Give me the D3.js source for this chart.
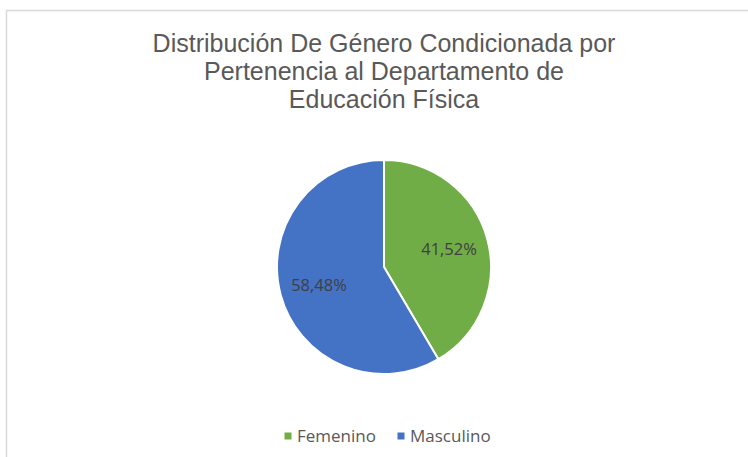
<!DOCTYPE html>
<html>
<head>
<meta charset="utf-8">
<script src="https://cdn.jsdelivr.net/npm/d3@7"></script>
<style>
  body { margin: 0; background: #fff; }
  svg { display: block; }
</style>
</head>
<body>
<svg id="chart"></svg>
<script>
const categories = ["Femenino", "Masculino"];
const values = [41.52, 58.48];
const labels = ["41,52%", "58,48%"];
const colors = ["#70AD47", "#4472C4"];
const titleLines = ["Distribución De Género Condicionada por", "Pertenencia al Departamento de", "Educación Física"];

const w = 748, h = 457;
const cx = 384, cy = 267, radius = 107;

const svg = d3.select("#chart").attr("width", w).attr("height", h);

// chart area frame (only top and left edges are visible)
svg.append("path")
  .attr("d", `M6.5,${h} V10.5 H${w}`)
  .attr("fill", "none")
  .attr("stroke", "#d9d9d9")
  .attr("stroke-width", 1.5);

svg.append("g")
  .selectAll("text")
  .data(titleLines)
  .join("text")
  .attr("x", cx)
  .attr("y", (d, i) => 52 + i * 28)
  .attr("text-anchor", "middle")
  .attr("font-family", "Liberation Sans, Arial, sans-serif")
  .attr("font-size", 25)
  .attr("fill", "#595959")
  .text(d => d);

const pie = d3.pie().sort(null).value(d => d);
const arcs = pie(values);
const arc = d3.arc().innerRadius(0).outerRadius(radius);
const labelArc = d3.arc().innerRadius(radius * 0.63).outerRadius(radius * 0.63);

const g = svg.append("g").attr("transform", `translate(${cx},${cy})`);

g.selectAll("path")
  .data(arcs)
  .join("path")
  .attr("d", arc)
  .attr("fill", (d, i) => colors[i])
  .attr("stroke", "#fff")
  .attr("stroke-width", 2)
  .attr("stroke-linejoin", "round");

g.selectAll("text")
  .data(arcs)
  .join("text")
  .attr("transform", d => `translate(${labelArc.centroid(d)})`)
  .attr("text-anchor", "middle")
  .attr("dy", "0.35em")
  .attr("font-family", "Open Sans, sans-serif")
  .attr("font-size", 16.5)
  .attr("fill", "#404040")
  .text((d, i) => labels[i]);

// legend
const legendX = d3.scalePoint().domain(categories).range([288, 401]);
const legend = svg.append("g")
  .selectAll("g")
  .data(categories)
  .join("g")
  .attr("transform", d => `translate(${legendX(d)},436)`);

legend.append("rect")
  .attr("x", -3.5).attr("y", -3.5)
  .attr("width", 7).attr("height", 7)
  .attr("fill", (d, i) => colors[i]);

legend.append("text")
  .attr("x", 9)
  .attr("dy", "0.35em")
  .attr("font-family", "Open Sans, sans-serif")
  .attr("font-size", 17)
  .attr("fill", "#595959")
  .text(d => d);
</script>
</body>
</html>
